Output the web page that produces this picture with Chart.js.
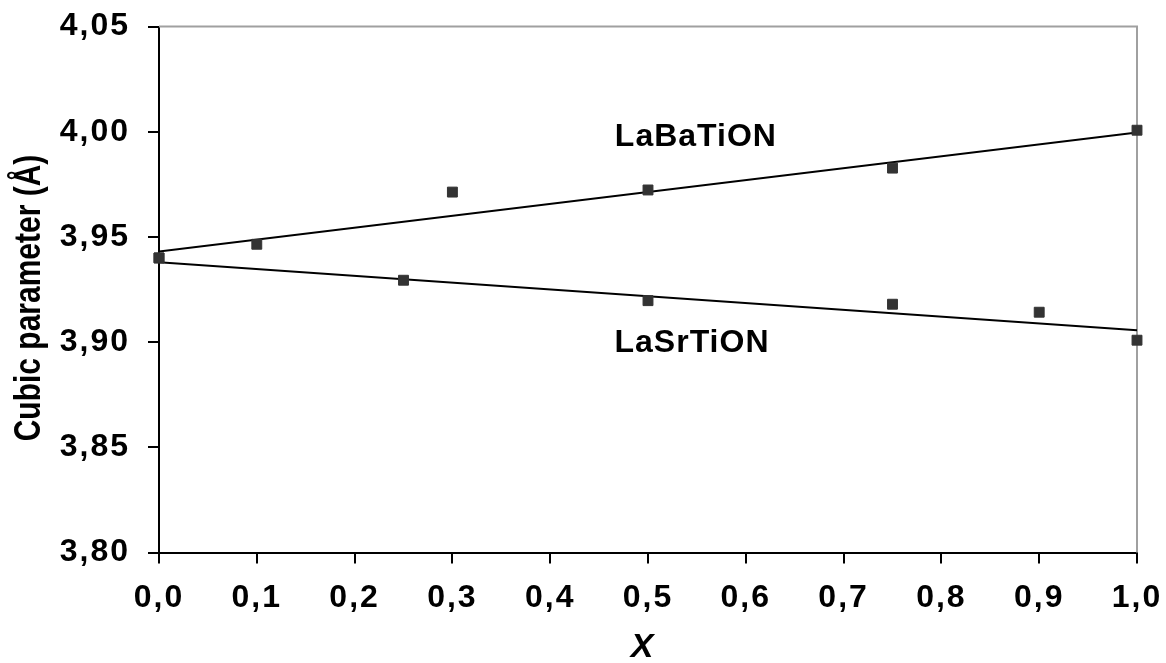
<!DOCTYPE html>
<html>
<head>
<meta charset="utf-8">
<script src="https://cdn.jsdelivr.net/npm/chart.js@4.4.1/dist/chart.umd.min.js"></script>
<style>
html, body { margin: 0; padding: 0; background: #fff; }
</style>
</head>
<body>
<canvas id="cellChart" width="1166" height="663"></canvas>
<script>
// composition x and cubic parameter (Å)
const baX = [0, 0.1, 0.3, 0.5, 0.75, 1.0];
const baY = [3.940, 3.9465, 3.9713, 3.9723, 3.9827, 4.0007];
const srX = [0, 0.25, 0.5, 0.75, 0.9, 1.0];
const srY = [3.940, 3.9294, 3.9197, 3.918, 3.9142, 3.9009];
// linear fits (ends of the drawn lines)
const fitX = [0, 1];
const baFit = [3.943, 3.9996];
const srFit = [3.938, 3.9056];
// names written next to the lines
const seriesNames = ['LaBaTiON', 'LaSrTiON'];
const nameX = [0.549, 0.545];
const nameY = [3.9972, 3.8996];
const xTitle = 'X';
const yTitle = 'Cubic parameter (Å)';

const canvas = document.getElementById('cellChart');
const FONT = '"Liberation Sans", Arial, sans-serif';

//--- Helpers ---//
function pts(xs, ys) {
    return xs.map((x, i) => ({ x: x, y: ys[i] }));
}
function comma(v, d) {
    return Number(v).toFixed(d).replace('.', ',');
}
//--------------//

// frame, wide tick text, titles and series names
const decor = {
    id: 'decor',
    beforeDraw(chart) {
        chart.ctx.letterSpacing = '2px';
    },
    beforeDatasetsDraw(chart) {
        const ctx = chart.ctx;
        const a = chart.chartArea;
        ctx.letterSpacing = '0px';
        ctx.save();
        ctx.strokeStyle = '#a0a0a0';
        ctx.lineWidth = 2;
        ctx.beginPath();
        ctx.moveTo(a.left, a.top);
        ctx.lineTo(a.right, a.top);
        ctx.lineTo(a.right, a.bottom);
        ctx.stroke();
        ctx.restore();
    },
    afterDraw(chart) {
        const ctx = chart.ctx;
        const xs = chart.scales.x;
        const ys = chart.scales.y;
        ctx.save();
        ctx.fillStyle = '#000';
        ctx.textAlign = 'center';
        ctx.textBaseline = 'middle';
        ctx.letterSpacing = '1px';
        ctx.font = 'bold 32px ' + FONT;
        seriesNames.forEach((n, i) => {
            ctx.fillText(n, xs.getPixelForValue(nameX[i]), ys.getPixelForValue(nameY[i]));
        });
        ctx.letterSpacing = '0px';
        ctx.font = 'italic bold 34px ' + FONT;
        ctx.fillText(xTitle, 642, 648);
        ctx.translate(30, 298);
        ctx.scale(1.2, 1);
        ctx.rotate(-Math.PI / 2);
        ctx.font = 'bold 30px ' + FONT;
        ctx.fillText(yTitle, 0, 0);
        ctx.restore();
    }
};

const tickFont = { family: FONT, size: 32, weight: 'bold' };
const markStyle = {
    pointStyle: 'rect',
    pointRadius: 7,
    pointBorderWidth: 1,
    backgroundColor: '#333',
    borderColor: '#333',
    showLine: false,
    clip: false
};
const fitStyle = {
    type: 'line',
    borderColor: '#000',
    borderWidth: 2,
    pointRadius: 0,
    fill: false,
    showLine: true
};

new Chart(canvas, {
    type: 'scatter',
    data: {
        datasets: [
            Object.assign({ label: seriesNames[0], data: pts(baX, baY) }, markStyle),
            Object.assign({ label: seriesNames[1], data: pts(srX, srY) }, markStyle),
            Object.assign({ label: seriesNames[0] + ' fit', data: pts(fitX, baFit) }, fitStyle),
            Object.assign({ label: seriesNames[1] + ' fit', data: pts(fitX, srFit) }, fitStyle)
        ]
    },
    options: {
        responsive: false,
        animation: false,
        devicePixelRatio: 1,
        layout: { padding: { top: 26.5, right: 29, left: 0, bottom: 0 } },
        plugins: {
            legend: { display: false },
            tooltip: { enabled: false }
        },
        scales: {
            x: {
                type: 'linear',
                min: 0,
                max: 1,
                afterFit: s => {
                    s.height = 110.5;
                    s.paddingLeft = 0;
                    s.paddingRight = 0;
                },
                border: { color: '#000', width: 2 },
                grid: { drawOnChartArea: false, tickLength: 11, color: '#000', lineWidth: 2 },
                ticks: {
                    stepSize: 0.1,
                    autoSkip: false,
                    maxRotation: 0,
                    padding: 15,
                    color: '#000',
                    font: tickFont,
                    callback: v => comma(v, 1)
                }
            },
            y: {
                type: 'linear',
                min: 3.80,
                max: 4.05,
                afterFit: s => {
                    s.width = 159;
                    s.paddingTop = 0;
                    s.paddingBottom = 0;
                },
                border: { color: '#000', width: 2 },
                grid: { drawOnChartArea: false, tickLength: 11, color: '#000', lineWidth: 2 },
                ticks: {
                    stepSize: 0.05,
                    padding: 18,
                    color: '#000',
                    font: tickFont,
                    callback: v => comma(v, 2)
                }
            }
        }
    },
    plugins: [decor]
});
</script>
</body>
</html>
